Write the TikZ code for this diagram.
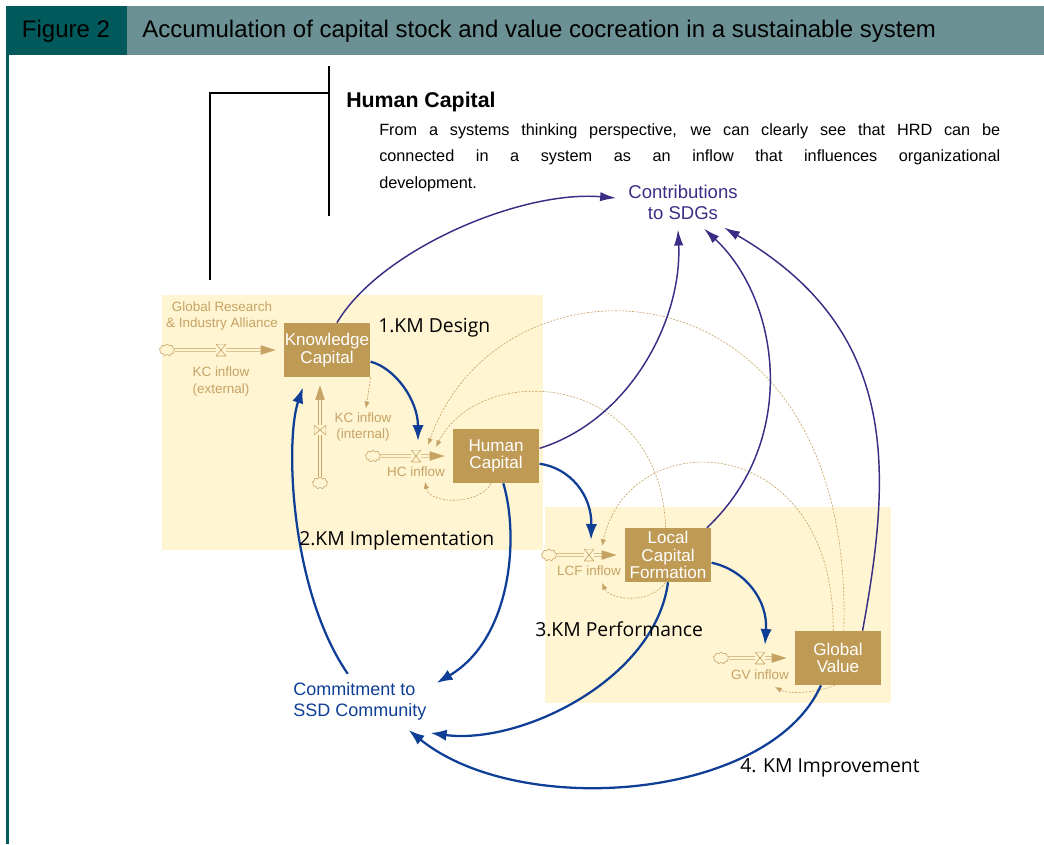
\documentclass[tikz,border=0pt]{standalone}
\usepackage{fontspec}
\setmainfont{Liberation Sans}
\newfontfamily\kmfont{Open Sans}
\usepackage{tikz}
\usetikzlibrary{arrows.meta,positioning,calc,shapes.symbols}
\definecolor{figdark}{RGB}{0,90,92}
\definecolor{figlight}{RGB}{107,145,148}
\definecolor{cream}{RGB}{255,245,210}
\definecolor{stockfill}{RGB}{191,154,84}
\definecolor{tanline}{RGB}{198,162,100}
\definecolor{kmblue}{RGB}{15,62,150}
\definecolor{sdgpurple}{RGB}{58,46,132}

\tikzset{
  stock/.style={fill=stockfill, text=white, minimum width=65pt, minimum height=40.5pt,
    inner sep=0pt, align=center, font=\fontsize{12.8}{13.2}\selectfont},
  flowlab/.style={text=tanline, align=center, inner sep=0pt, font=\fontsize{10.1}{12.3}\selectfont},
  cloudnode/.style={cloud, cloud puffs=9, aspect=1.3, draw=tanline, fill=cream,
    line width=.4pt, minimum width=11.5pt, minimum height=9pt, inner sep=0pt},
  valve/.style={minimum width=7.5pt, minimum height=9pt, inner sep=0pt, fill=cream,
    path picture={\draw[tanline, line width=.45pt] (path picture bounding box.north west)
      -- (path picture bounding box.north east) -- (path picture bounding box.south west)
      -- (path picture bounding box.south east) -- cycle;}},
  valveup/.style={minimum width=9pt, minimum height=7.5pt, inner sep=0pt, fill=cream,
    path picture={\draw[tanline, line width=.45pt] (path picture bounding box.north west)
      -- (path picture bounding box.south west) -- (path picture bounding box.north east)
      -- (path picture bounding box.south east) -- cycle;}},
  pipe/.style={draw=tanline, line width=.4pt, double=cream, double distance=1.5pt,
    -{Triangle[length=11pt,width=7pt,fill=tanline]}, shorten >=6pt},
  bluelink/.style={draw=kmblue, line width=1.7pt, -{Latex[length=12pt,width=8.5pt]}},
  sdglink/.style={draw=sdgpurple, line width=1.1pt, -{Latex[length=12pt,width=7pt]}},
  infolink/.style={draw=tanline, line width=.45pt, dash pattern=on 1.6pt off 1pt,
    -{Latex[length=5pt,width=4pt]}},
  headtext/.style={inner sep=0pt, font=\fontsize{18}{21}\selectfont},
  kmlab/.style={anchor=west, inner sep=0pt, font=\kmfont\fontsize{14.5}{16}\selectfont},
}

\begin{document}
\begin{tikzpicture}[x=0.75pt, y=-0.75pt]
\useasboundingbox (0,0) rectangle (1044,844);

% figure header
\fill[figdark] (6,6) rectangle (127,55);
\fill[figlight] (127,6) rectangle (1044,55);
\draw[figdark, line width=2.2pt] (7.5,55) -- (7.5,844);
\node[headtext] (figno) at (66,31) {Figure 2};
\node[headtext, anchor=west] (figtitle) at (142,31) {Accumulation of capital stock and value cocreation in a sustainable system};

% bracket and note
\draw[line width=1.1pt] (329,66) -- (329,216);
\draw[line width=1.1pt] (210,280) |- (329,93);
\node[anchor=west, inner sep=0pt, font=\bfseries\fontsize{16}{19}\selectfont] (hctitle) at (346,102) {Human Capital};
\node[anchor=north west, inner sep=0pt, text width=465.75pt, align=justify,
  font=\fontsize{12.2}{19.9}\selectfont] (hcnote) at (379,123)
  {From a systems thinking perspective, we can clearly see that HRD can be\linebreak
   connected in a system as an inflow that influences organizational\linebreak development.};

% sectors
\fill[cream] (162,295) rectangle (543,550);
\fill[cream] (545,507) rectangle (891,703);

% stocks
\node[stock] (kc) at (327,350) {Knowledge\\Capital};
\node[stock] (hc) at (496,456) {Human\\Capital};
\node[stock] (lcf) at (668,555) {Local\\Capital\\Formation};
\node[stock] (gv) at (838,658) {Global\\Value};

% sources
\node[cloudnode] (kccl) at (167,350) {};
\node[cloudnode] (kcicl) at (320,483) {};
\node[cloudnode] (hccl) at (373,456) {};
\node[cloudnode] (lcfcl) at (549,555) {};
\node[cloudnode] (gvcl) at (721,658) {};

% flows
\draw[pipe] (kccl) -- (kc);
\draw[pipe] (kcicl) -- (kcicl |- kc.south);
\draw[pipe] (hccl) -- (hc);
\draw[pipe] (lcfcl) -- (lcf);
\draw[pipe] (gvcl) -- (gv);

\node[valve] (kcv) at (221,350) {};
\node[valveup] (kciv) at (320,430) {};
\node[valve] (hcv) at (416,456) {};
\node[valve] (lcfv) at (589,555) {};
\node[valve] (gvv) at (760,658) {};

\node[flowlab] (alliance) at (222,316) {Global Research\\\& Industry Alliance};
\node[flowlab, below=8pt of kcv] (kclab) {KC inflow\\(external)};
\node[flowlab] (kcilab) at (363,427) {KC inflow\\(internal)};
\node[flowlab, below=3pt of hcv] (hclab) {HC inflow};
\node[flowlab, below=3.5pt of lcfv] (lcflab) {LCF inflow};
\node[flowlab, below=4pt of gvv] (gvlab) {GV inflow};

% information links
\draw[infolink] (kc.south east) -- ($(kcilab.north)+(3,-4)$);
\draw[infolink] (gv.78) .. controls (855,250) and (500,240) .. ($(hcv)+(12,-11)$);
\draw[infolink] (lcf.95) .. controls (660,370) and (480,360) .. ($(hcv)+(20,-9)$);
\draw[infolink] (gv.100) .. controls (835,430) and (630,420) .. ($(lcfv)+(13,-9)$);
\draw[infolink] (hc.-100) .. controls (480,505) and (430,505) .. ($(hcv)+(9,26)$);
\draw[infolink] (lcf.-95) .. controls (650,605) and (610,600) .. ($(lcfv)+(13,28)$);
\draw[infolink] (gv.-97) .. controls (820,692) and (790,695) .. ($(gvv)+(15,29)$);

% outcomes
\node[inner sep=0pt, align=center, text=sdgpurple, font=\fontsize{13.9}{15.75}\selectfont] (sdg) at (683,202) {Contributions\\to SDGs};
\node[anchor=west, inner sep=0pt, align=left, text=kmblue, font=\fontsize{13.5}{15.75}\selectfont] (ssd) at (293,701) {Commitment to\\SSD Community};

% KM loop
\draw[bluelink] (kc.-15) .. controls (395,368) and (418,400) .. ($(hcv)+(2,-15)$);
\draw[bluelink] (hc.-10) .. controls (570,468) and (592,495) .. ($(lcfv)+(2,-15)$);
\draw[bluelink] (lcf.-10) .. controls (745,570) and (768,600) .. ($(gvv)+(5,-13)$);
\draw[bluelink] (hc.-75) .. controls (520,540) and (510,640) .. ($(ssd.east)+(10,-18)$);
\draw[bluelink] (lcf.south) .. controls (655,680) and (520,745) .. ($(ssd.east)+(4,32)$);
\draw[bluelink] (gv.-122) .. controls (770,800) and (520,820) .. ($(ssd.east)+(-18,29)$);
\draw[bluelink] ($(ssd.north)+(-12,-8)$) .. controls (290,590) and (285,440) .. ($(kc.south)+(-24,10)$);

% contributions
\draw[sdglink] (kc.70) .. controls (380,250) and (520,190) .. ($(sdg.west)+(-12,-4)$);
\draw[sdglink] (hc.10) .. controls (630,420) and (682,320) .. ($(sdg.south)+(-5,10)$);
\draw[sdglink] (lcf.35) .. controls (800,440) and (780,300) .. ($(sdg.south)+(21,9)$);
\draw[sdglink] (gv.48) .. controls (892,470) and (900,330) .. ($(sdg.south)+(41,8)$);

% stages
\node[kmlab] (km1) at (378,328) {1.KM Design};
\node[kmlab] (km2) at (299,540) {2.KM Implementation};
\node[kmlab] (km3) at (535,629) {3.KM Performance};
\node[kmlab] (km4) at (740,768) {4. KM Improvement};
\end{tikzpicture}
\end{document}
